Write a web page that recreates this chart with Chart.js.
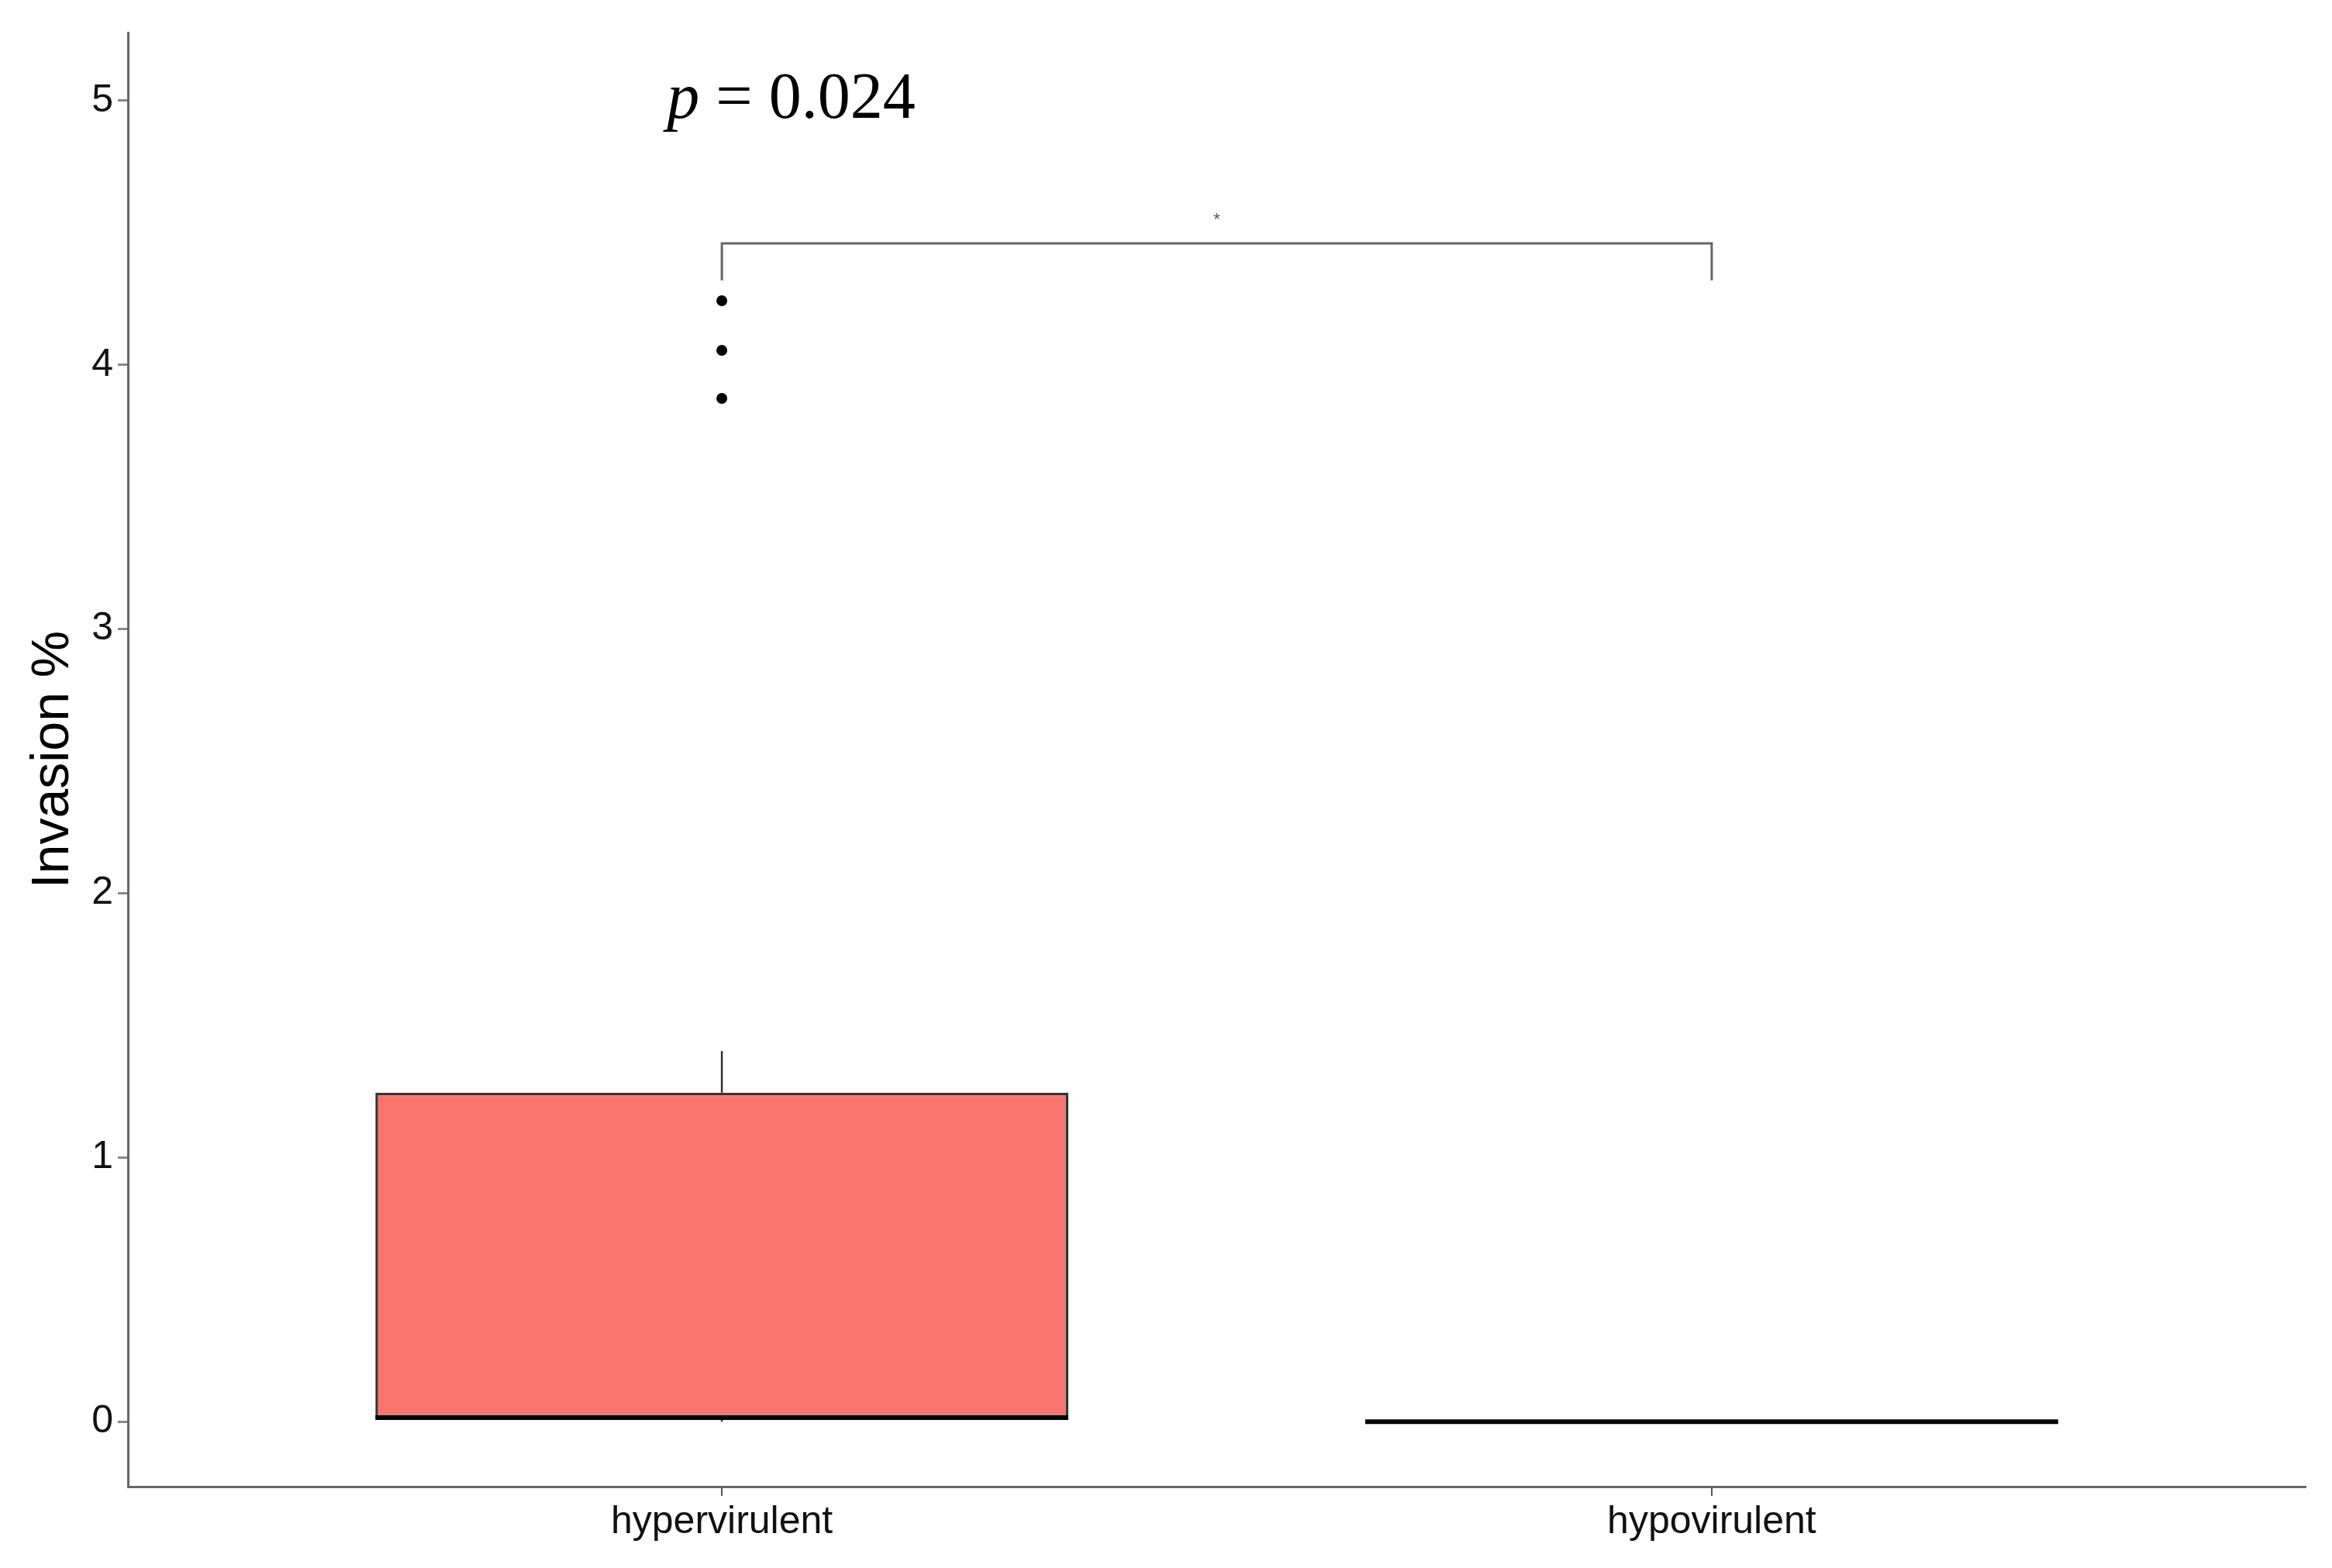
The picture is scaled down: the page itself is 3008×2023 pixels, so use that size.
<!DOCTYPE html>
<html>
<head>
<meta charset="utf-8">
<script src="https://cdn.jsdelivr.net/npm/chart.js@4"></script>
<style>
  html, body { margin: 0; padding: 0; background: #fff; }
  #wrap { width: 3008px; height: 2023px; }
</style>
</head>
<body>
<div id="wrap"><canvas id="boxChart"></canvas></div>
<script>
// data
const groups = ['hypervirulent', 'hypovirulent'];
const groupPos = [1, 2];
const q1 = [0.015, 0];
const median = [0.015, 0];
const q3 = [1.245, 0];
const whiskerLow = [0, 0];
const whiskerHigh = [1.403, 0];
const outlierGroup = [1, 1, 1];
const outlierValues = [4.243, 4.055, 3.873];
const yTicks = [0, 1, 2, 3, 4, 5];

// significance bracket
const bracketFrom = 1, bracketTo = 2;
const bracketTop = 4.46, bracketFoot = 4.32;
const starY = 4.56;
const pLabel = { x: 1.07, y: 5.0, text: '0.024' };

const boxColor = '#F8766D';

const boxExtras = {
  id: 'boxExtras',
  afterDatasetsDraw(chart) {
    const { ctx, scales: { x, y } } = chart;
    const bars = chart.getDatasetMeta(0).data;
    ctx.save();
    // whiskers
    ctx.strokeStyle = '#333';
    ctx.lineWidth = 2.5;
    groupPos.forEach((g, i) => {
      const cx = x.getPixelForValue(g);
      ctx.beginPath();
      ctx.moveTo(cx, y.getPixelForValue(q3[i]));
      ctx.lineTo(cx, y.getPixelForValue(whiskerHigh[i]));
      ctx.moveTo(cx, y.getPixelForValue(q1[i]));
      ctx.lineTo(cx, y.getPixelForValue(whiskerLow[i]));
      ctx.stroke();
    });
    // medians
    ctx.strokeStyle = '#000';
    ctx.lineWidth = 6;
    bars.forEach((bar, i) => {
      const half = bar.width / 2;
      const my = y.getPixelForValue(median[i]);
      ctx.beginPath();
      ctx.moveTo(bar.x - half, my);
      ctx.lineTo(bar.x + half, my);
      ctx.stroke();
    });
    // bracket
    const bx1 = x.getPixelForValue(bracketFrom);
    const bx2 = x.getPixelForValue(bracketTo);
    const by = y.getPixelForValue(bracketTop);
    const bf = y.getPixelForValue(bracketFoot);
    ctx.strokeStyle = '#666';
    ctx.lineWidth = 3;
    ctx.beginPath();
    ctx.moveTo(bx1, bf);
    ctx.lineTo(bx1, by);
    ctx.lineTo(bx2, by);
    ctx.lineTo(bx2, bf);
    ctx.stroke();
    ctx.fillStyle = '#555';
    ctx.font = '22px "Liberation Sans"';
    ctx.textAlign = 'center';
    ctx.textBaseline = 'middle';
    ctx.fillText('*', x.getPixelForValue((bracketFrom + bracketTo) / 2), y.getPixelForValue(starY) + 4);
    // p value
    ctx.fillStyle = '#000';
    ctx.textBaseline = 'middle';
    const italic = 'italic 84px "Liberation Serif"';
    const upright = '84px "Liberation Serif"';
    ctx.font = italic;
    const w1 = ctx.measureText('p').width;
    ctx.font = upright;
    const w2 = ctx.measureText(' = ' + pLabel.text).width;
    let px = x.getPixelForValue(pLabel.x) - (w1 + w2) / 2;
    const py = y.getPixelForValue(pLabel.y);
    ctx.textAlign = 'left';
    ctx.font = italic;
    ctx.fillText('p', px, py);
    ctx.font = upright;
    ctx.fillText(' = ' + pLabel.text, px + w1, py);
    ctx.restore();
  }
};

new Chart(document.getElementById('boxChart'), {
  type: 'bar',
  data: {
    datasets: [{
      label: 'box',
      data: groupPos.map((g, i) => ({ x: g, y: [q1[i], q3[i]] })),
      backgroundColor: boxColor,
      borderColor: '#333',
      borderWidth: 3.5,
      borderSkipped: false,
      barPercentage: 0.7,
      categoryPercentage: 1
    }, {
      type: 'scatter',
      label: 'outliers',
      data: outlierGroup.map((g, i) => ({ x: g, y: outlierValues[i] })),
      backgroundColor: '#000',
      borderColor: '#000',
      pointRadius: 7,
      borderWidth: 0
    }]
  },
  plugins: [boxExtras],
  options: {
    responsive: true,
    maintainAspectRatio: false,
    animation: false,
    layout: { padding: { top: 42, right: 34, left: 0, bottom: 0 } },
    plugins: { legend: { display: false }, tooltip: { enabled: false } },
    scales: {
      x: {
        type: 'linear',
        min: 0.4,
        max: 2.6,
        offset: false,
        afterBuildTicks: scale => { scale.ticks = groupPos.map(v => ({ value: v })); },
        afterFit: scale => { scale.height = 105; },
        grid: { display: true, offset: false, drawOnChartArea: false, drawTicks: true, tickLength: 12, tickColor: '#555', lineWidth: 2 },
        border: { display: true, color: '#666', width: 3 },
        ticks: {
          color: '#111',
          padding: 4,
          font: { family: 'Liberation Sans', size: 50 },
          callback: v => groups[groupPos.indexOf(v)] || ''
        }
      },
      y: {
        min: -0.246,
        max: 5.258,
        afterBuildTicks: scale => { scale.ticks = yTicks.map(v => ({ value: v })); },
        afterFit: scale => { scale.width = 165; },
        grid: { display: true, drawOnChartArea: false, drawTicks: true, tickLength: 13, tickColor: '#888', lineWidth: 3 },
        border: { display: true, color: '#666', width: 3 },
        ticks: {
          color: '#111',
          padding: 6,
          font: { family: 'Liberation Sans', size: 50 }
        },
        title: {
          display: true,
          text: 'Invasion %',
          color: '#000',
          font: { family: 'Liberation Sans', size: 68 },
          padding: { top: 28, bottom: 0 }
        }
      }
    }
  }
});
</script>
</body>
</html>
